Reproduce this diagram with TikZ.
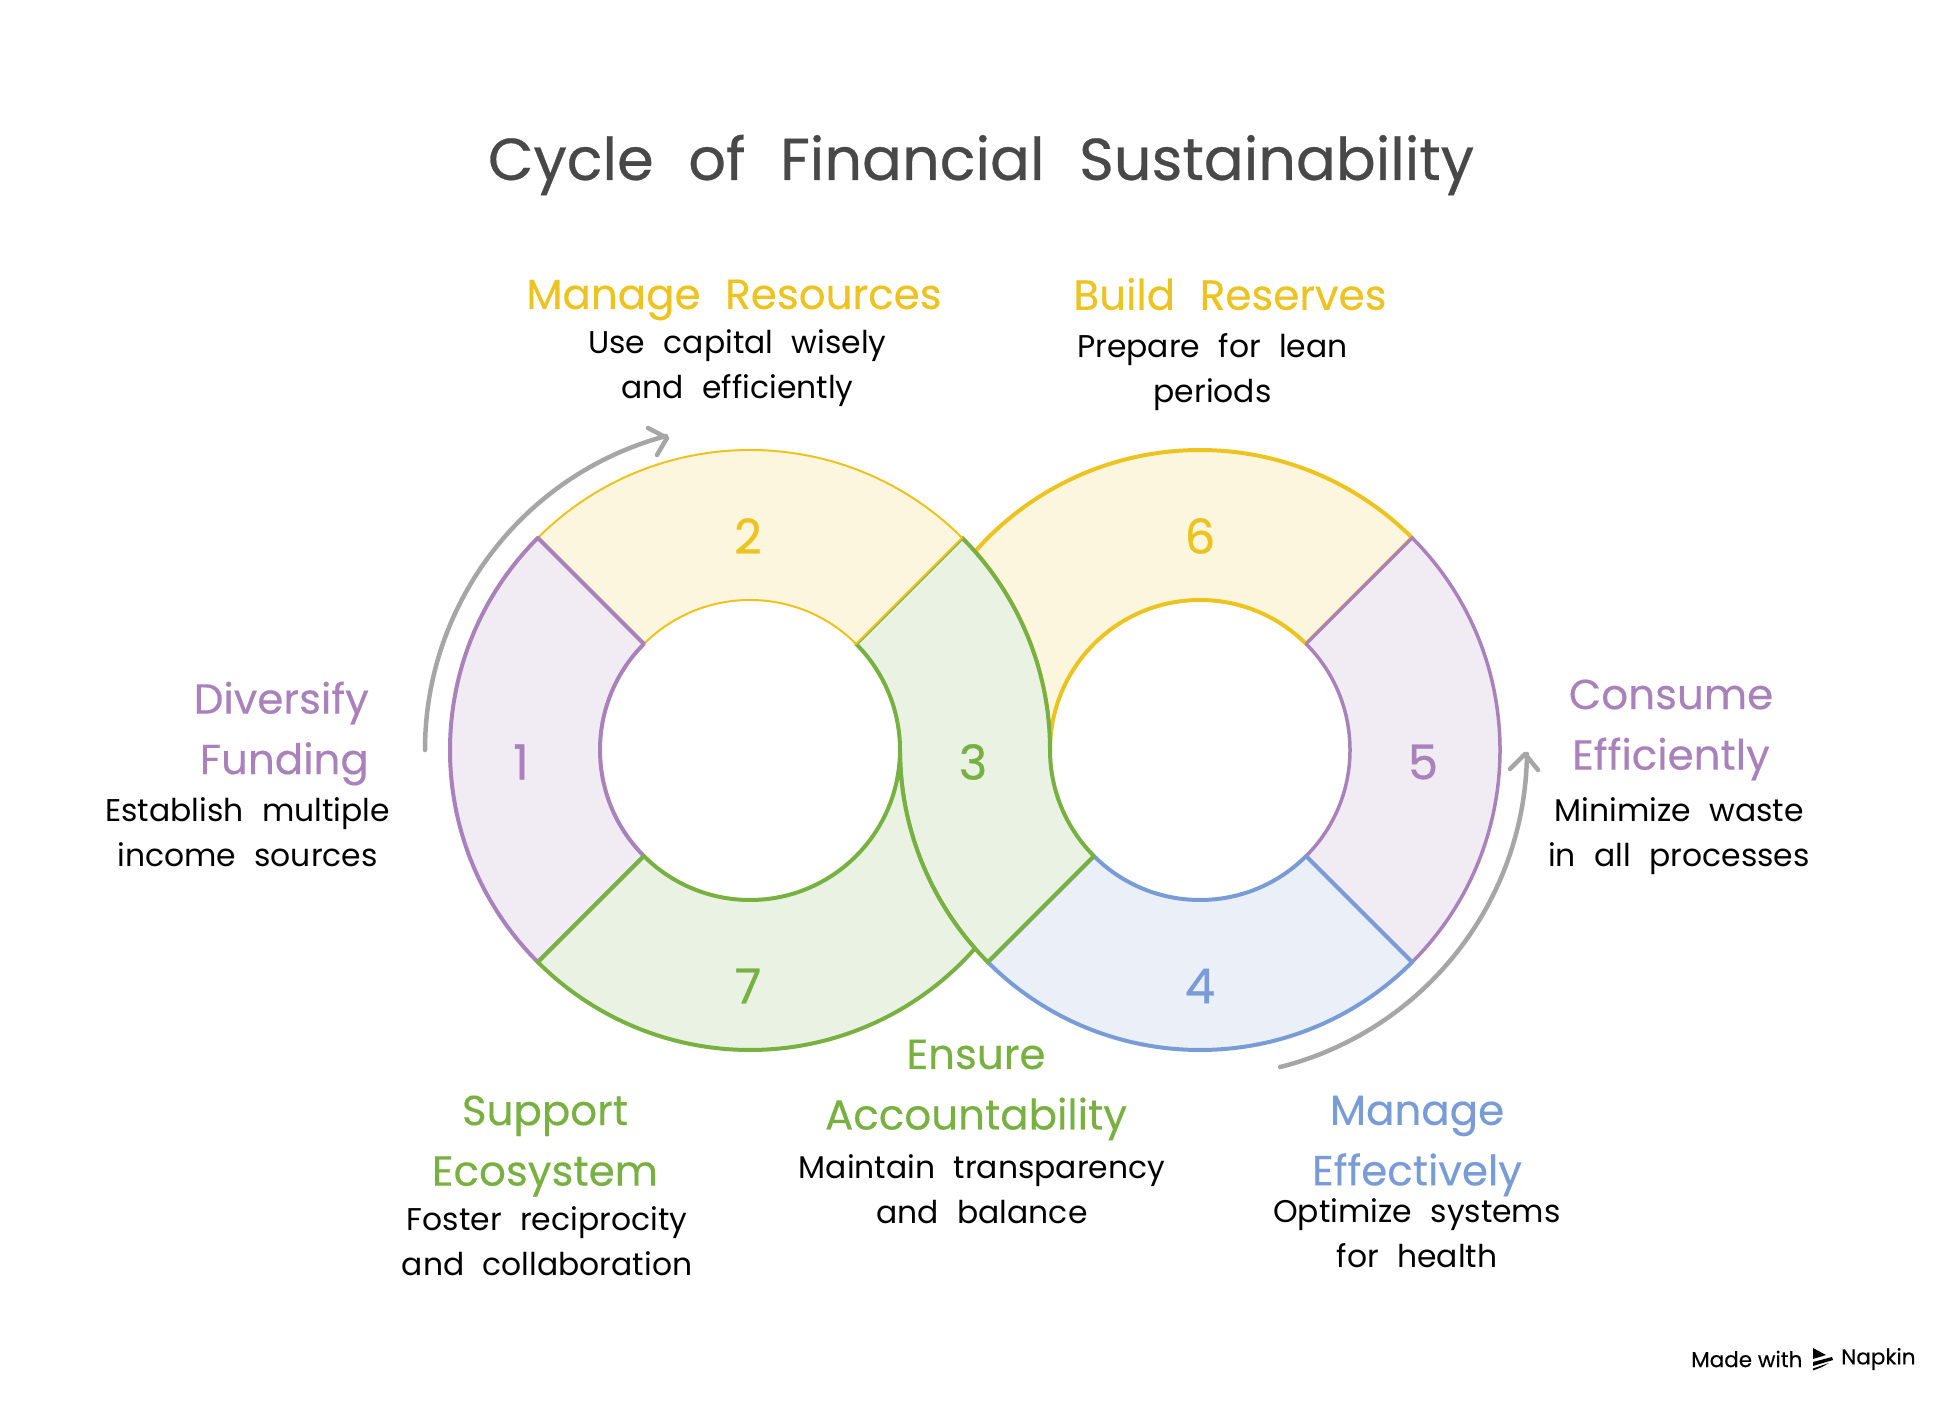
\documentclass[tikz,border=0pt]{standalone}
\usepackage{fontspec}
\usetikzlibrary{calc}
\setmainfont[WordSpace=2.2]{Poppins}
\newfontfamily\brandfont[FakeBold=0.35]{Poppins}
\newfontfamily\titlefont[WordSpace=2.2,FakeBold=0.5]{Poppins}
\newfontfamily\headfont[WordSpace=2.2,FakeBold=0.25]{Poppins}
\newfontfamily\numfont[FakeBold=0.7]{Poppins}
\definecolor{cpurple}{HTML}{A981BB}
\definecolor{cyellow}{HTML}{ECC31F}
\definecolor{cgreen}{HTML}{78B041}
\definecolor{cblue}{HTML}{7A9CD6}
\definecolor{fpurple}{HTML}{F1ECF4}
\definecolor{fyellow}{HTML}{FCF6DE}
\definecolor{fgreen}{HTML}{EAF2E3}
\definecolor{fblue}{HTML}{EBF0F8}
\definecolor{cgray}{HTML}{A6A6A6}
\definecolor{ctitle}{HTML}{484848}
\tikzset{
  x=1pt,y=1pt,
  seg/.style={line width=4pt,line join=round},
  flow/.style={draw=cgray,line width=4.5pt,line cap=round,line join=round},
  titletext/.style={inner sep=0pt,text=ctitle,font=\titlefont\fontsize{59}{68}\selectfont},
  headtext/.style={inner sep=0pt,align=center,font=\headfont\fontsize{42}{60.5}\selectfont},
  subtext/.style={inner sep=0pt,align=center,text=black,font=\fontsize{31.4}{45}\selectfont},
  numtext/.style={inner sep=0pt,font=\numfont\fontsize{48}{48}\selectfont},
  brand/.style={inner sep=0pt,text=black,font=\brandfont\fontsize{21.5}{24}\selectfont},
}
\begin{document}
\begin{tikzpicture}
\useasboundingbox (0,0) rectangle (1950,1400);
\fill[white] (0,0) rectangle (1950,1400);
\coordinate (CL) at (750,650);
\coordinate (CR) at (1200,650);
% segment 6
\path[seg,draw=cyellow,fill=fyellow] ($(CR)+(138.59:300)$) arc[start angle=138.59,end angle=45,radius=300pt]
  -- ($(CR)+(45:150)$) arc[start angle=45,end angle=180,radius=150pt]
  arc[start angle=0,end angle=41.41,radius=300pt] -- cycle;
% segment 5
\path[seg,line width=3.5pt,draw=cpurple,fill=fpurple] ($(CR)+(45:300)$) arc[start angle=45,end angle=-45,radius=300pt]
  -- ($(CR)+(-45:150)$) arc[start angle=-45,end angle=45,radius=150pt] -- cycle;
% segment 4
\path[seg,draw=cblue,fill=fblue] ($(CR)+(225:300)$) arc[start angle=225,end angle=315,radius=300pt]
  -- ($(CR)+(315:150)$) arc[start angle=315,end angle=225,radius=150pt] -- cycle;
% segment 3
\path[seg,draw=cgreen,fill=fgreen] ($(CL)+(45:300)$) arc[start angle=45,end angle=0,radius=300pt]
  arc[start angle=180,end angle=225,radius=150pt]
  -- ($(CR)+(225:300)$) arc[start angle=225,end angle=180,radius=300pt]
  arc[start angle=0,end angle=45,radius=150pt] -- cycle;
% segment 2
\path[seg,line width=2pt,draw=cyellow,fill=fyellow] ($(CL)+(135:300)$) arc[start angle=135,end angle=45,radius=300pt]
  -- ($(CL)+(45:150)$) arc[start angle=45,end angle=135,radius=150pt] -- cycle;
% segment 1
\path[seg,draw=cpurple,fill=fpurple] ($(CL)+(135:300)$) arc[start angle=135,end angle=225,radius=300pt]
  -- ($(CL)+(225:150)$) arc[start angle=225,end angle=135,radius=150pt] -- cycle;
% segment 7
\path[seg,draw=cgreen,fill=fgreen] ($(CL)+(225:300)$) arc[start angle=225,end angle=318.59,radius=300pt]
  arc[start angle=221.41,end angle=180,radius=300pt]
  arc[start angle=0,end angle=-135,radius=150pt] -- cycle;
% flow arrows
\draw[flow] ($(CL)+(180:325)$) arc[start angle=180,end angle=105,radius=325pt];
\coordinate (tipA) at (667,962);
\draw[flow] (648,972) -- (tipA) -- (657,945);
\draw[flow] ($(CR)+(-75.8:327)$) arc[start angle=-75.8,end angle=-0.7,radius=327pt];
\coordinate (tipB) at (1525,646);
\draw[flow] (1510,631) -- (tipB) -- (1538,630);
% title
\node[titletext] (title) at (981,1235) {Cycle of Financial Sustainability};
% numbers
\node[numtext,text=cpurple] (n1) at (521,638) {1};
\node[numtext,text=cyellow] (n2) at (748,864) {2};
\node[numtext,text=cgreen] (n3) at (973,638) {3};
\node[numtext,text=cblue] (n4) at (1200,414) {4};
\node[numtext,text=cpurple] (n5) at (1423,638) {5};
\node[numtext,text=cyellow] (n6) at (1200,864) {6};
\node[numtext,text=cgreen] (n7) at (748,414) {7};
% labels
\node[headtext,text=cyellow] (h2) at (734,1100) {Manage Resources};
\node[subtext] (s2) at (737.5,1031.5) {Use capital wisely\\and efficiently};
\node[headtext,text=cyellow] (h6) at (1230,1106) {Build Reserves};
\node[subtext] (s6) at (1212.5,1028) {Prepare for lean\\periods};
\node[headtext,text=cpurple,align=right,anchor=east] (h1) at (369,666.5) {Diversify\\Funding};
\node[subtext] (s1) at (247.5,568) {Establish multiple\\income sources};
\node[headtext,text=cpurple] (h5) at (1671,670) {Consume\\Efficiently};
\node[subtext] (s5) at (1679,563.5) {Minimize waste\\in all processes};
\node[headtext,text=cgreen] (h7) at (545,254) {Support\\Ecosystem};
\node[subtext] (s7) at (547,159) {Foster reciprocity\\and collaboration};
\node[headtext,text=cgreen] (h3) at (976,310) {Ensure\\Accountability};
\node[subtext] (s3) at (982,211) {Maintain transparency\\and balance};
\node[headtext,text=cblue] (h4) at (1417,254) {Manage\\Effectively};
\node[subtext] (s4) at (1417,167) {Optimize systems\\for health};
% brand
\node[brand,anchor=west] (made) at (1691,41) {Made with};
\node[brand,anchor=west] (napkin) at (1841,41) {Napkin};
\fill[black] (1813,52) -- (1826,45) -- (1813,41) -- cycle;
\fill[black] (1813,38) -- (1832,43) -- (1833,40) -- (1813,34) -- cycle;
\fill[black] (1813,31.5) -- (1829,37) -- (1822,33) -- (1813,29.5) -- cycle;
\end{tikzpicture}
\end{document}
